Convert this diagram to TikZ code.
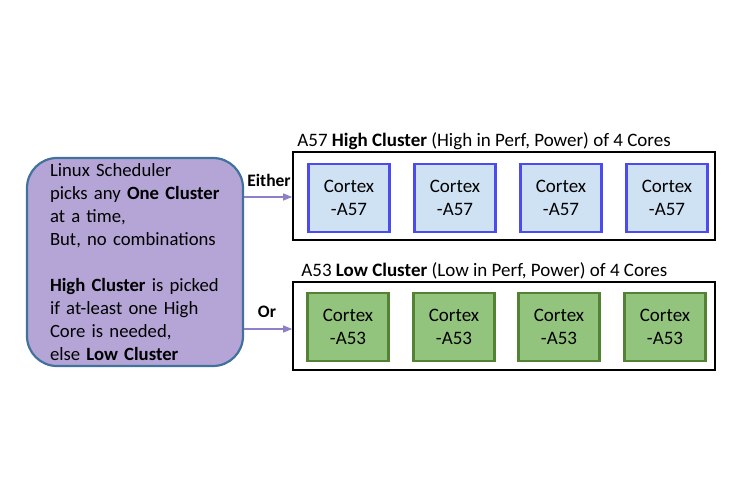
\documentclass[tikz,border=0pt]{standalone}
\usepackage{fontspec}
\setmainfont{Carlito}
\usetikzlibrary{arrows.meta}
\definecolor{schedfill}{HTML}{B4A5D6}
\definecolor{schedline}{HTML}{41729D}
\definecolor{bluefill}{HTML}{CFE2F3}
\definecolor{blueline}{HTML}{4B4BF0}
\definecolor{greenfill}{HTML}{93C47D}
\definecolor{greenline}{HTML}{548235}
\definecolor{arrowcol}{HTML}{8F7FC8}
\tikzset{
  txt/.style={font=\fontsize{18.7}{23}\selectfont},
  sched/.style={draw=schedline, fill=schedfill, line width=2.2pt, rounded corners=30pt,
    minimum width=216pt, minimum height=208pt, text width=170pt, align=left, inner xsep=23pt, txt},
  cluster/.style={draw=black, line width=1.6pt, minimum width=422pt, minimum height=88pt, inner sep=0pt},
  hcore/.style={draw=blueline, fill=bluefill, line width=2.2pt, minimum width=81pt, minimum height=68pt, inner sep=0pt, align=center, font=\fontsize{19}{23}\selectfont},
  lcore/.style={draw=greenline, fill=greenfill, line width=2.2pt, minimum width=81pt, minimum height=68pt, inner sep=0pt, align=center, font=\fontsize{19}{23}\selectfont},
  title/.style={anchor=base west, inner sep=0pt, font=\fontsize{19}{22}\selectfont},
  conn/.style={draw=arrowcol, line width=1.1pt, -{Triangle[length=9pt,width=7pt]}},
  lab/.style={font=\fontsize{17.5}{20}\selectfont\bfseries, inner sep=0pt}
}
\begin{document}
\begin{tikzpicture}[x=1pt,y=-1pt]
\useasboundingbox (0,0) rectangle (750,500);
\node[sched] (sched) at (135,262) {Linux Scheduler\\picks any \textbf{One Cluster}\\at a time,\\But, no combinations\\[23pt]\textbf{High Cluster} is picked\\if at-least one High\\Core is needed,\\else \textbf{Low Cluster}};
\node[cluster] (hc) at (504,196) {};
\node[cluster] (lc) at (504,326) {};
\node[title] (ht) at ([shift={(5pt,5pt)}]hc.north west) {A57 \textbf{High Cluster} (High in Perf, Power) of 4 Cores};
\node[title] (lt) at ([shift={(9pt,5pt)}]lc.north west) {A53 \textbf{Low Cluster} (Low in Perf, Power) of 4 Cores};
\node[hcore] (h1) at (349,198) {Cortex\\-A57};
\node[hcore] (h2) at (455,198) {Cortex\\-A57};
\node[hcore] (h3) at (561,198) {Cortex\\-A57};
\node[hcore] (h4) at (667,198) {Cortex\\-A57};
\node[lcore] (l1) at (348,327) {Cortex\\-A53};
\node[lcore] (l2) at (454,327) {Cortex\\-A53};
\node[lcore] (l3) at (559,327) {Cortex\\-A53};
\node[lcore] (l4) at (665,327) {Cortex\\-A53};
\coordinate (hs) at (sched.east |- 0,197);
\coordinate (ls) at (sched.east |- 0,329);
\draw[conn] (hs) -- (hc.west |- hs);
\draw[conn] (ls) -- (lc.west |- ls);
\node[lab] (either) at (269,180) {Either};
\node[lab] (or) at (267,312) {Or};
\end{tikzpicture}
\end{document}
